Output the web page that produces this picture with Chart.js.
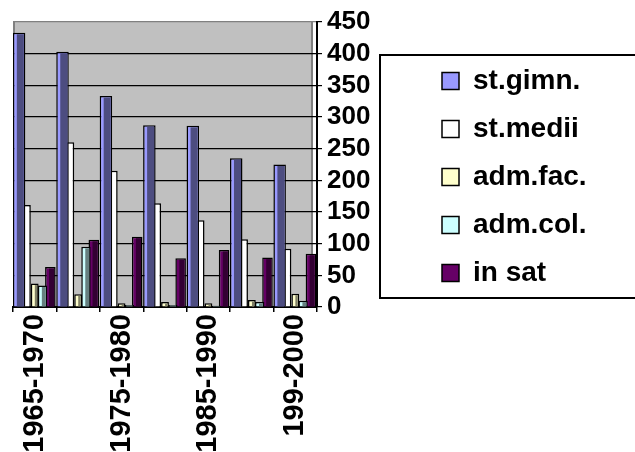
<!DOCTYPE html>
<html><head><meta charset="utf-8">
<script src="https://cdn.jsdelivr.net/npm/chart.js@4.4.0/dist/chart.umd.min.js"></script>
<style>html,body{margin:0;padding:0;background:#fff}#wrap{width:635px;height:452px;position:relative}</style>
</head><body><div id="wrap"><canvas id="c"></canvas></div>
<script>
const categories = ['1965-1970','1970-1975','1975-1980','1980-1985','1985-1990','1990-1995','199-2000'];
const stGimn  = [433, 403, 333, 287, 286, 235, 225];
const stMedii = [161, 260, 215, 164, 137, 107, 92];
const admFac  = [37, 20, 6, 8, 6, 11, 21];
const admCol  = [34, 95, 3, 3, 2, 8, 10];
const inSat   = [63, 106, 111, 77, 90, 78, 84];
const seriesNames = ['st.gimn.','st.medii','adm.fac.','adm.col.','in sat'];

const frontColors = ['#9999FF','#FFFFFF','#FFFFCC','#CCFFFF','#660066'];
const sideColors  = ['#4D4D80', null, '#808066', '#668080', '#330033'];
const barPct = [1.6, 1.0, 1.0, 1.2, 1.35];
const FONT = "'Liberation Sans', Arial, sans-serif";
const LEGEND_WIDTH = 213;

const wall = {
  id: 'wall',
  beforeDraw(chart) {
    const a = chart.chartArea, c = chart.ctx;
    c.save();
    c.fillStyle = '#C0C0C0';
    c.fillRect(a.left, a.top, a.right - a.left - 4, a.bottom - a.top);
    c.strokeStyle = '#808080';
    c.lineWidth = 2;
    c.beginPath();
    c.moveTo(a.left + 1, a.top); c.lineTo(a.left + 1, a.bottom);
    c.moveTo(a.right - 5, a.top); c.lineTo(a.right - 5, a.bottom);
    c.stroke();
    c.restore();
  }
};

const shade = {
  id: 'shade',
  afterDatasetDraw(chart, args) {
    const side = sideColors[args.index];
    if (!side) return;
    const c = chart.ctx;
    c.save();
    c.fillStyle = side;
    args.meta.data.forEach(el => {
      const p = el.getProps(['x','y','base','width'], true);
      const l = p.x - p.width / 2 + 1.5 + 2.5;
      const r = p.x + p.width / 2 - 1.5;
      if (r > l && p.base - p.y > 2) c.fillRect(l, p.y + 1.5, r - l, p.base - p.y - 1.5);
    });
    c.restore();
  }
};

const legendWidth = {
  id: 'legendWidth',
  afterInit(chart) {
    const lg = chart.legend;
    if (!lg || lg._patched) return;
    const orig = lg.fit.bind(lg);
    lg.fit = function () { orig(); this.width = LEGEND_WIDTH; };
    lg._patched = true;
  }
};

const legendBox = {
  id: 'legendBox',
  afterDraw(chart) {
    const hb = chart.legend.legendHitBoxes;
    if (!hb || !hb.length) return;
    const c = chart.ctx;
    const top = hb[0].top - 12;
    const last = hb[hb.length - 1];
    const bottom = last.top + last.height + 11;
    const left = hb[0].left - 62;
    c.save();
    c.strokeStyle = '#000';
    c.lineWidth = 2;
    c.strokeRect(left, top, chart.width + 10 - left, bottom - top);
    c.restore();
  }
};

const allValues = [stGimn, stMedii, admFac, admCol, inSat];

new Chart(document.getElementById('c'), {
  type: 'bar',
  data: {
    labels: categories,
    datasets: allValues.map((vals, i) => ({
      label: seriesNames[i],
      data: vals,
      backgroundColor: frontColors[i],
      borderColor: '#000',
      borderWidth: 1.5,
      categoryPercentage: 0.9,
      barPercentage: barPct[i]
    }))
  },
  options: {
    responsive: true,
    maintainAspectRatio: false,
    animation: false,
    layout: { padding: { left: 13, top: 22, right: 0, bottom: 0 } },
    plugins: {
      tooltip: { enabled: false },
      legend: {
        position: 'right',
        fullSize: false,
        align: 'end',
        labels: {
          boxWidth: 17, boxHeight: 17, padding: 20, color: '#000',
          font: { family: FONT, size: 28, weight: 'bold' }
        }
      }
    },
    scales: {
      x: {
        offset: true,
        grid: { offset: true, drawOnChartArea: false, drawTicks: true, tickLength: 5, color: '#000', lineWidth: 1.5 },
        border: { color: '#000', width: 2 },
        ticks: {
          autoSkip: false, maxRotation: 90, minRotation: 90, padding: 2, color: '#000',
          font: { family: FONT, size: 29, weight: 'bold' },
          callback: (v, i) => (i % 2 === 0 ? categories[i] : '')
        },
        afterFit: s => { s.height = 145; }
      },
      y: {
        position: 'right',
        min: 0, max: 450,
        ticks: { stepSize: 50, autoSkip: false, padding: 5, color: '#000', font: { family: FONT, size: 26, weight: 'bold' } },
        grid: { color: ctx => (ctx.tick && ctx.tick.value === 450 ? '#808080' : '#000'), lineWidth: 1.2, tickLength: 5, tickColor: '#000' },
        border: { color: '#000', width: 2 },
        afterFit: s => { s.width = 105; }
      }
    }
  },
  plugins: [legendWidth, wall, shade, legendBox]
});
</script></body></html>
